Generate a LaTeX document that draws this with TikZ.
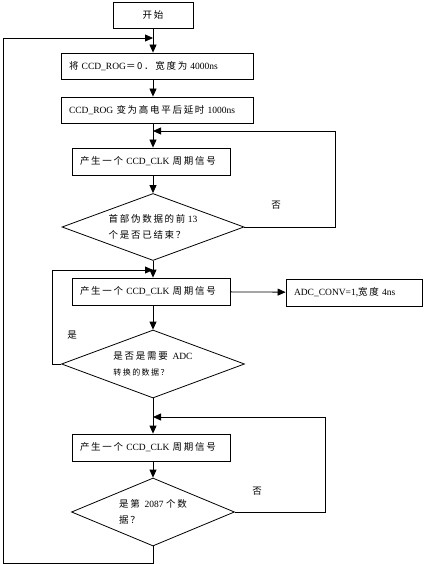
\documentclass[tikz,border=0pt]{standalone}
\usepackage{fontspec}
\usepackage{tikz}
\usetikzlibrary{arrows.meta,shapes.geometric}
\setmainfont{Liberation Serif}
\newfontfamily\cjk[LetterSpace=18]{Noto Sans CJK SC}
\newcommand\zh[1]{{\cjk #1}}

\begin{document}
\begin{tikzpicture}[x=1pt, y=-1pt, line width=0.8pt, font=\fontsize{9.5}{16}\selectfont,
  proc/.style = {shape=rectangle, draw, align=left, inner xsep=8pt, inner ysep=0pt, minimum height=27pt, text width=#1},
  test/.style = {shape=diamond, draw, align=left, inner sep=0pt, aspect=2.7},
  arr/.style = {-{Triangle[length=8pt,width=7pt]}}]
	\useasboundingbox (0,0) rectangle (427,564);
	% boxes
	\node[proc=64pt, align=center, minimum height=26pt] (start) at (153,15) {\zh{开始}};
	\node[proc=176pt, minimum height=26pt] (rog0) at (157,66) {\zh{将} CCD\_ROG\zh{＝0．宽度为} 4000ns};
	\node[proc=176pt, minimum height=26pt] (rog1) at (157,110) {CCD\_ROG \zh{变为高电平后延时} 1000ns};
	\node[proc=142pt] (clk1) at (151,161.5) {\zh{产生一个} CCD\_CLK \zh{周期信号}};
	\node[test, minimum width=182pt, minimum height=67pt] (dec1) at (153,227) {\zh{首部伪数据的前} 13\\\zh{个是否已结束？}};
	\node[proc=142pt] (clk2) at (151,291.5) {\zh{产生一个} CCD\_CLK \zh{周期信号}};
	\node[proc=120pt] (adc) at (354,292.5) {ADC\_CONV=1,\zh{宽度} 4ns};
	\node[test, minimum width=183pt, minimum height=68pt] (dec2) at (153,364) {\zh{是否是需要}\ \ ADC\\{\fontsize{8}{10}\selectfont\zh{转换的数据？}}};
	\node[proc=142pt] (clk3) at (151,447.5) {\zh{产生一个} CCD\_CLK \zh{周期信号}};
	\node[test, minimum width=163pt, minimum height=68pt] (dec3) at (153,512) {\zh{是第}\ \ 2087 \zh{个数}\\\zh{据？}};
	% labels
	\node (no1) at (276,205) {\zh{否}};
	\node (yes2) at (72,335) {\zh{是}};
	\node (no3) at (257,491) {\zh{否}};
	% joins
	\coordinate (m1) at (153,38);
	\coordinate (m2) at (153,131);
	\coordinate (m3) at (153,270);
	\coordinate (m4) at (153,417);
	\coordinate (c0) at (3,563);
	\coordinate (c1) at (335,131);
	\coordinate (c2) at (52,270);
	\coordinate (c3) at (325,417);
	% main flow
	\draw[arr] (start) -- (start |- rog0.north);
	\draw[arr] (start |- rog0.south) -- (start |- rog1.north);
	\draw[arr] (start |- rog1.south) -- (start |- clk1.north);
	\draw[arr] (start |- clk1.south) -- (dec1.north);
	\draw[arr] (dec1.south) -- (start |- clk2.north);
	\draw[arr] (start |- clk2.south) -- (dec2.north);
	\draw[arr] (clk2) -- (adc);
	\draw[arr] (dec2.south) -- (start |- clk3.north);
	\draw[arr] (start |- clk3.south) -- (dec3.north);
	% loops
	\draw[arr] (dec1.east) -| (c1) -- (m2);
	\draw[arr] (dec2.west) -| (c2) -- (m3);
	\draw[arr] (dec3.east) -| (c3) -- (m4);
	\draw[arr] (dec3.south) |- (c0) |- (m1);
\end{tikzpicture}
\end{document}
